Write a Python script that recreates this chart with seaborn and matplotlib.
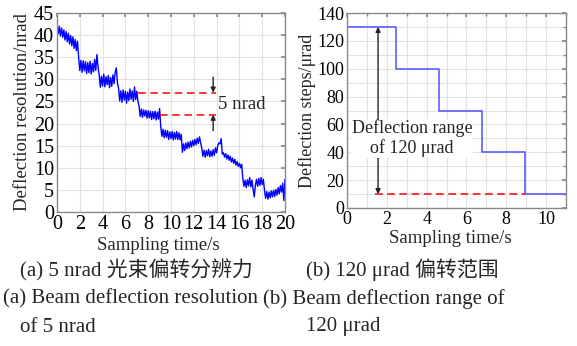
import numpy as np
import pandas as pd
import matplotlib
matplotlib.use("Agg")
import matplotlib.pyplot as plt
from matplotlib.ticker import MultipleLocator
import seaborn as sns

# ---- (a) measured beam deflection, sampled every 0.1 s ----
sample_interval_s = 0.1
resolution_nrad = [
    # 0.0 - 1.8 s
    42.3, 40.3, 42.0, 39.8, 41.6, 39.5, 41.2, 38.9, 40.8, 38.5,
    40.4, 38.0, 39.9, 37.6, 39.6, 37.0, 39.0, 36.5, 38.6,
    # 1.9 - 3.6 s
    34.9, 32.0, 34.3, 31.6, 34.2, 31.9, 34.0, 31.3, 33.8, 31.5,
    34.1, 31.2, 33.6, 31.7, 34.5, 32.0, 35.6, 32.8,
    # 3.7 - 5.3 s
    31.0, 28.2, 30.7, 28.5, 31.2, 28.3, 30.6, 28.8, 30.9, 28.1,
    30.4, 28.4, 31.0, 29.0, 31.6, 32.6, 29.2,
    # 5.4 - 7.1 s
    28.0, 25.1, 27.4, 24.8, 27.6, 25.3, 27.3, 24.6, 27.1, 25.2,
    27.8, 25.5, 27.4, 25.0, 28.3, 25.4, 27.3, 25.0,
    # 7.2 - 9.0 s
    23.9, 21.6, 23.3, 21.4, 23.1, 21.7, 23.0, 21.2, 22.9, 21.3,
    22.8, 20.9, 22.7, 21.1, 22.8, 20.8, 22.6, 21.0, 23.4,
    # 9.1 - 10.9 s
    19.3, 17.1, 18.7, 16.8, 18.5, 16.9, 18.4, 16.4, 18.1, 16.6,
    18.2, 16.3, 18.0, 16.5, 18.2, 16.4, 17.9, 16.3, 17.6,
    # 11.0 - 12.6 s
    13.5, 15.4, 13.9, 15.6, 14.3, 15.8, 14.5, 16.0, 14.7, 16.2,
    15.0, 16.4, 15.2, 16.7, 15.5, 17.0, 15.7,
    # 12.7 - 14.2 s
    14.4, 12.6, 14.0, 12.4, 13.9, 12.7, 14.2, 12.5, 13.8, 12.6,
    14.1, 12.8, 14.5, 13.4, 15.0, 15.6,
    # 14.3 - 16.2 s
    15.4, 16.6, 13.1, 13.4, 12.4, 13.2, 12.0, 12.9, 11.7, 12.6,
    11.3, 12.2, 11.0, 11.9, 10.6, 11.4, 10.3, 11.0, 10.0, 10.8,
    # 16.3 - 18.1 s
    7.6, 5.8, 7.2, 5.5, 7.3, 5.9, 7.8, 5.7, 7.2, 5.2,
    3.4, 6.0, 7.4, 5.8, 7.6, 6.0, 7.8, 6.2, 7.4,
    # 18.2 - 20.0 s
    5.0, 3.1, 4.6, 2.9, 4.5, 3.2, 4.8, 3.4, 4.9, 3.5,
    5.1, 3.8, 5.5, 4.1, 6.0, 4.5, 6.5, 2.6, 7.4,
]
upper_level_nrad = 27.0
lower_level_nrad = 22.0

# ---- (b) commanded deflection steps ----
step_time_s = [0.0, 2.45, 4.6, 6.77, 8.92, 11.0]
step_level_urad = [130, 100, 70, 40, 10, 10]

caption_a_cn = "(a) 5 nrad 光束偏转分辨力"
caption_a_en = ["(a) Beam deflection resolution", "of 5 nrad"]
caption_b_cn = "(b) 120 μrad 偏转范围"
caption_b_en = ["(b) Beam deflection range of", "120 μrad"]

sns.set_theme(style="white")
plt.rcParams["font.family"] = ["Liberation Serif", "Noto Sans CJK SC"]
CAP_FS = 15

fig = plt.figure(figsize=(5.77, 3.46), dpi=100)
fig.patch.set_facecolor("white")
ax1 = fig.add_axes([57 / 577, 1 - 212 / 346, 228 / 577, 199 / 346])
ax2 = fig.add_axes([347 / 577, 1 - 208 / 346, 219 / 577, 195 / 346])


def style_axes(ax, tick_fs):
    ax.set_facecolor("white")
    for s in ax.spines.values():
        s.set_color("#8a8a8a")
        s.set_linewidth(1.0)
    ax.grid(True, which="both", color="#e2e2e2", linewidth=0.8)
    ax.set_axisbelow(True)
    ax.tick_params(which="both", direction="in", length=3, color="#8a8a8a",
                   top=True, right=True, labelsize=tick_fs, pad=2,
                   labelcolor="black")
    ax.tick_params(which="minor", length=2.5)


# ---- panel (a) ----
df_a = pd.DataFrame({
    "t": np.arange(len(resolution_nrad)) * sample_interval_s,
    "v": resolution_nrad,
})
sns.lineplot(data=df_a, x="t", y="v", ax=ax1, color="#0000ff",
             linewidth=1.0, estimator=None)
ax1.set_xlim(0, 20)
ax1.set_ylim(0, 45)
ax1.xaxis.set_major_locator(MultipleLocator(2))
ax1.yaxis.set_major_locator(MultipleLocator(5))
style_axes(ax1, 14.5)
ax1.set_xlabel("Sampling time/s", fontsize=13.5)
ax1.set_ylabel("Deflection resolution/nrad", fontsize=13.5, labelpad=2)
ax1.xaxis.set_label_coords(0.445, -0.125)

ax1.plot([7.1, 13.95], [upper_level_nrad] * 2, color="#ff0000",
         linestyle=(0, (5, 3)), linewidth=1.1)
ax1.plot([9.0, 13.95], [lower_level_nrad] * 2, color="#ff0000",
         linestyle=(0, (5, 3)), linewidth=1.1)
arrow_x = 13.7
ax1.annotate("", xy=(arrow_x, upper_level_nrad), xytext=(arrow_x, 30.5),
             arrowprops=dict(arrowstyle="-|>", color="#222222", lw=1.0,
                             mutation_scale=7, shrinkA=0, shrinkB=0))
ax1.annotate("", xy=(arrow_x, lower_level_nrad), xytext=(arrow_x, 18.4),
             arrowprops=dict(arrowstyle="-|>", color="#222222", lw=1.0,
                             mutation_scale=7, shrinkA=0, shrinkB=0))
ax1.text(14.15, 24.4, "5 nrad", fontsize=13.5, ha="left", va="center")

# ---- panel (b) ----
df_b = pd.DataFrame({"t": step_time_s, "v": step_level_urad})
sns.lineplot(data=df_b, x="t", y="v", ax=ax2, color="#5c5cff",
             linewidth=1.2, drawstyle="steps-post", estimator=None)
ax2.set_xlim(0, 11)
ax2.set_ylim(0, 140)
ax2.xaxis.set_major_locator(MultipleLocator(2))
ax2.xaxis.set_minor_locator(MultipleLocator(1))
ax2.yaxis.set_major_locator(MultipleLocator(20))
ax2.yaxis.set_minor_locator(MultipleLocator(10))
style_axes(ax2, 13)
ax2.set_xlabel("Sampling time/s", fontsize=13.5)
ax2.set_ylabel("Deflection steps/μrad", fontsize=13, labelpad=1)
ax2.xaxis.set_label_coords(0.47, -0.115)

ax2.plot([1.4, step_time_s[4]], [step_level_urad[-1]] * 2, color="#ff0000",
         linestyle=(0, (5, 3)), linewidth=1.1)
ax2.annotate("", xy=(1.56, step_level_urad[0]),
             xytext=(1.56, step_level_urad[-1]),
             arrowprops=dict(arrowstyle="<|-|>", color="#222222", lw=1.0,
                             mutation_scale=7, shrinkA=0, shrinkB=0))
ax2.text(3.26, 50, "Deflection range\nof 120 μrad", fontsize=13,
         ha="center", va="center", linespacing=1.15,
         bbox=dict(facecolor="white", edgecolor="none", pad=0.3))

# ---- captions ----
fig.text(20 / 577, 1 - 270 / 346, caption_a_cn, fontsize=CAP_FS, va="center")
fig.text(3 / 577, 1 - 299 / 346, caption_a_en[0], fontsize=CAP_FS, va="center")
fig.text(20 / 577, 1 - 327 / 346, caption_a_en[1], fontsize=CAP_FS, va="center")
fig.text(306 / 577, 1 - 270 / 346, caption_b_cn, fontsize=CAP_FS, va="center")
fig.text(263 / 577, 1 - 299 / 346, caption_b_en[0], fontsize=CAP_FS, va="center")
fig.text(306 / 577, 1 - 327 / 346, caption_b_en[1], fontsize=CAP_FS, va="center")

fig.savefig("out.png", dpi=100, facecolor="white")
